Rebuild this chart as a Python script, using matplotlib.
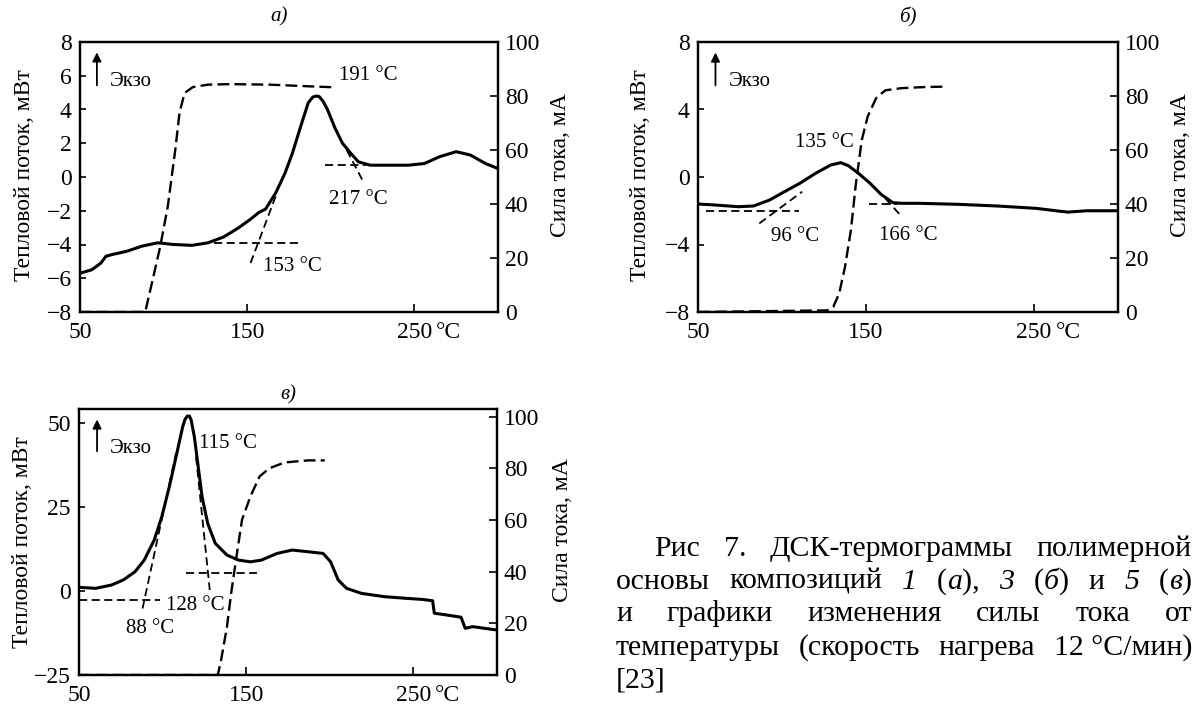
import matplotlib
matplotlib.use('Agg')
import matplotlib.pyplot as plt

plt.rcParams['font.family'] = ['Liberation Serif', 'DejaVu Serif']
plt.rcParams['axes.unicode_minus'] = True

# ---- data ----
# panel a (composition 1): heat flow, mW
a_temp = [50, 57, 62.5, 65.5, 69, 78, 87, 96.5, 106, 117, 126.5, 136, 145, 152, 157, 161,
          167, 172.5, 177, 182, 186.5, 189.3, 191.2, 193, 195.3, 198, 202.5, 207, 212, 216.5,
          223.5, 233, 246.5, 256, 265, 275, 283.5, 292.5, 300]
a_heat = [-5.7, -5.5, -5.1, -4.7, -4.6, -4.4, -4.1, -3.9, -4.0, -4.05, -3.9, -3.55, -3.0, -2.5,
          -2.1, -1.9, -0.95, 0.2, 1.4, 3.0, 4.4, 4.74, 4.8, 4.77, 4.5, 4.0, 2.9, 2.0, 1.4, 0.9,
          0.7, 0.7, 0.7, 0.8, 1.2, 1.5, 1.3, 0.8, 0.5]
# current, mA
a_cur_temp = [50, 89, 93, 98, 102.5, 107, 109.5, 112.5, 117.5, 126.5, 140, 163.5, 186.5, 203]
a_cur = [0, 0, 10.7, 24.3, 39.1, 60.1, 73.7, 81.1, 83.3, 84.2, 84.4, 84.2, 83.6, 83.2]
a_tangents = [((130, 182), (-3.9, -3.9)), ((152, 167), (-5.1, -1.15)),
              ((196.5, 221), (0.7, 0.7)), ((209.5, 219), (1.6, -0.2))]
a_notes = [('191 °C', 205, 6.0), ('217 °C', 199, -1.35), ('153 °C', 159.5, -5.3)]

# panel b (composition 3)
b_temp = [50, 60, 74, 83, 92.5, 101.5, 110.5, 120, 129, 135, 139.5, 145.5, 152.5, 159, 166,
          171, 182, 205, 228.5, 251.5, 263, 270, 281.5, 300]
b_heat = [-1.6, -1.66, -1.76, -1.72, -1.37, -0.87, -0.38, 0.22, 0.71, 0.85, 0.67, 0.22, -0.38,
          -1.03, -1.52, -1.56, -1.56, -1.62, -1.72, -1.86, -2.0, -2.08, -2.0, -2.0]
b_cur_temp = [50, 127, 130.5, 134, 137.5, 141, 144, 147.5, 151, 156, 161.5, 171, 184.5, 198.5]
b_cur = [0, 0.6, 1.9, 6.8, 16.7, 30.3, 47.6, 63.7, 72.4, 79.2, 82.1, 82.9, 83.3, 83.5]
b_tangents = [((55, 110), (-2.0, -2.0)), ((86.5, 112), (-2.75, -0.87)),
              ((152, 168.5), (-1.6, -1.6)), ((161.5, 171), (-1.27, -2.32))]
b_notes = [('135 °C', 108, 2.04), ('96 °C', 93.4, -3.5), ('166 °C', 158, -3.45)]

# panel c (composition 5)
c_temp = [50, 60, 69.5, 76.5, 83.5, 89, 95, 99.5, 104, 108.5, 112, 113.4, 114.8, 116, 117.1,
          119, 121.3, 123.6, 127, 131.5, 138.5, 145.5, 152.5, 159, 168.5, 177.5, 187, 196,
          200.5, 205, 210, 219, 233, 246.5, 255.5, 261.5, 262.5, 269.5, 278.5, 281, 285.5,
          292.5, 300]
c_heat = [1.1, 0.8, 1.8, 3.3, 5.75, 9.2, 15.2, 22.1, 31.0, 41.0, 48.9, 51.1, 52.1, 52.1, 50.9,
          45.9, 37.0, 28.1, 20.1, 14.2, 10.7, 9.2, 8.7, 9.2, 11.2, 12.2, 11.7, 11.2,
          8.7, 3.3, 0.8, -0.7, -1.7, -2.2, -2.5, -2.9, -6.6, -7.1, -7.8, -11.1, -10.6,
          -11.1, -11.6]
c_cur_temp = [50, 133, 135, 138.5, 141, 144.5, 147.5, 152.5, 158, 164, 173, 187, 197]
c_cur = [0, 0, 5.8, 18.7, 31.7, 47.2, 60.1, 69.1, 76.9, 80.1, 82.3, 83.1, 83.1]
c_tangents = [((50, 98.3), (-2.7, -2.7)), ((88, 108), (-5.2, 41)),
              ((120, 128.2), (40, 0.3)), ((114, 156.5), (5.5, 5.5))]
c_notes = [('115 °C', 122, 44), ('128 °C', 102, -4.2), ('88 °C', 78, -11.1)]

x_ticks = [50, 150, 250]
x_tick_labels = ['50', '150', '250']
cur_ticks = [0, 20, 40, 60, 80, 100]

caption_lines = ['Рис 7. ДСК-термограммы полимерной',
                 'основы композиций _1_ (_а_), _3_ (_б_) и _5_ (_в_)',
                 'и графики изменения силы тока от',
                 'температуры (скорость нагрева 12\u00a0°C/мин)',
                 '[23]']

W, H = 1195, 709
fig = plt.figure(figsize=(W / 100, H / 100), dpi=100)
fig.patch.set_facecolor('white')


def px_rect(left, top, right, bottom):
    return [left / W, 1 - bottom / H, (right - left) / W, (bottom - top) / H]


def draw_panel(rect, temp, heat, cur_temp, cur, tangents, notes, ylim, yticks, cur_ylim, exo):
    ax = fig.add_axes(rect)
    ax.plot(temp, heat, color='black', lw=2.2, solid_joinstyle='round')
    for (x0, x1), (y0, y1) in tangents:
        ax.plot([x0, x1], [y0, y1], color='black', lw=1.3, ls=(0, (4.5, 2.5)))
    for txt, x, y in notes:
        ax.text(x, y, txt, fontsize=15, ha='left', va='center')
    ax.annotate('', xy=(exo[0], exo[2]), xytext=(exo[0], exo[1]),
                arrowprops=dict(arrowstyle='-|>', color='black', lw=1.3, mutation_scale=13))
    ax.text(exo[0] + 7.7, exo[3], 'Экзо', fontsize=15, ha='left', va='center')

    ax.set_xlim(50, 300)
    ax.set_ylim(ylim)
    ax.set_xticks(x_ticks)
    ax.set_xticklabels(x_tick_labels)
    ax.set_yticks(yticks)
    ax.tick_params(axis='x', direction='in', length=6, width=1.2, pad=7, labelsize=17)
    ax.tick_params(axis='y', direction='in', length=4, width=1.2, pad=6, labelsize=17)
    ax.annotate('°C', xy=(263, 0), xycoords=('data', 'axes fraction'),
                xytext=(0, -7), textcoords='offset points', ha='left', va='top', fontsize=17)

    ax2 = ax.twinx()
    ax2.plot(cur_temp, cur, color='black', lw=1.7, ls=(0, (5, 2.2)))
    ax2.set_ylim(cur_ylim)
    ax2.set_yticks(cur_ticks)
    ax2.tick_params(axis='y', direction='in', length=6, width=1.2, pad=5, labelsize=17)
    for a in (ax, ax2):
        for s in a.spines.values():
            s.set_linewidth(1.6)
    return ax, ax2


draw_panel(px_rect(80, 42, 498, 312), a_temp, a_heat, a_cur_temp, a_cur, a_tangents, a_notes,
           (-8, 8), range(-8, 9, 2), (0, 100), (60.1, 5.27, 7.55, 5.67))
draw_panel(px_rect(698, 42, 1118, 312), b_temp, b_heat, b_cur_temp, b_cur, b_tangents, b_notes,
           (-8, 8), range(-8, 9, 4), (0, 100), (60.4, 5.27, 7.54, 5.67))
draw_panel(px_rect(79, 409, 497, 675), c_temp, c_heat, c_cur_temp, c_cur, c_tangents, c_notes,
           (-25, 54.2), [-25, 0, 25, 50], (0, 103), (60.8, 40.8, 51.9, 42.5))

# panel titles and axis labels
for txt, x, y in [('а)', 279, 17), ('б)', 908, 17), ('в)', 288, 395)]:
    fig.text(x / W, 1 - y / H, txt, fontsize=15, style='italic', ha='center', va='center')
for x, y in [(25, 175), (640, 175), (23, 542)]:
    fig.text(x / W, 1 - y / H, 'Тепловой поток, мВт', fontsize=17, rotation=90,
             ha='center', va='center')
for x, y in [(561, 165), (1181, 165), (563, 530)]:
    fig.text(x / W, 1 - y / H, 'Сила тока, мА', fontsize=17, rotation=90,
             ha='center', va='center')

# justified caption
cap_fs = 21.5
cap_left, cap_indent, cap_right = 616, 654, 1192
cap_base = [556, 589, 621, 655, 688]
renderer = fig.canvas.get_renderer()
space = fig.text(0, 0, 'a a', fontsize=cap_fs)
space_px = space.get_window_extent(renderer).width
space.set_text('aa')
space_px -= space.get_window_extent(renderer).width
space.remove()

for i, line in enumerate(caption_lines):
    items = []
    for word in line.split(' '):
        pieces = []
        for k, part in enumerate(word.split('_')):
            if not part:
                continue
            t = fig.text(0, 0, part, fontsize=cap_fs, ha='left', va='baseline',
                         style='italic' if k % 2 else 'normal')
            pieces.append((t, t.get_window_extent(renderer).width))
        items.append(pieces)
    total = sum(w for pieces in items for _, w in pieces)
    x = cap_indent if i == 0 else cap_left
    if i < len(caption_lines) - 1 and len(items) > 1:
        gap = (cap_right - x - total) / (len(items) - 1)
    else:
        gap = space_px
    for pieces in items:
        for t, w in pieces:
            t.set_position((x / W, 1 - cap_base[i] / H))
            x += w
        x += gap

fig.savefig('out.png', dpi=100)
